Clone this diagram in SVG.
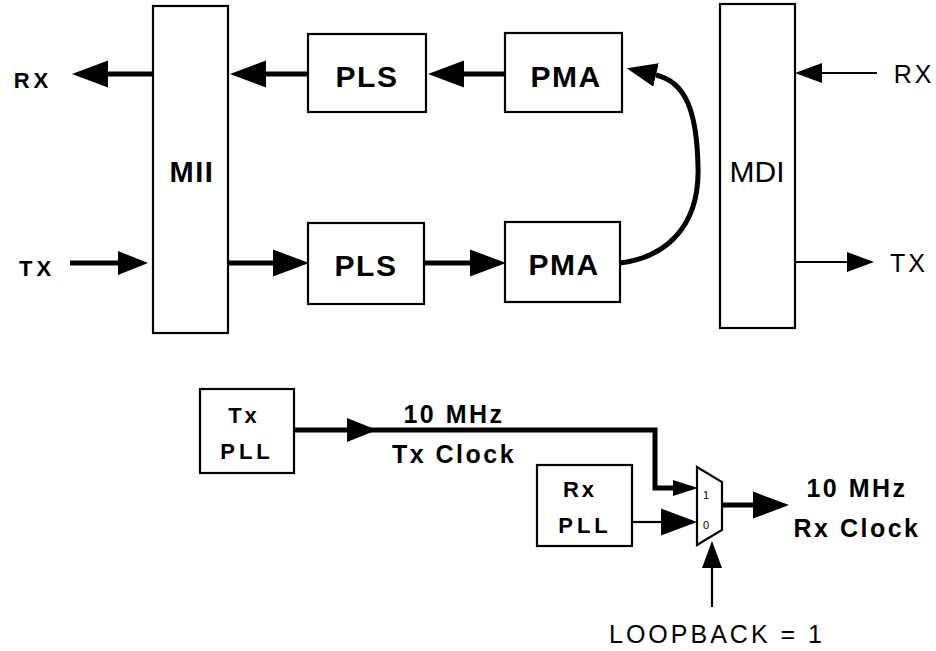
<svg xmlns="http://www.w3.org/2000/svg" width="936" height="651" viewBox="0 0 936 651">
<style>
.box{fill:#fff;stroke:#000;stroke-width:2.2}
.thick{fill:none;stroke:#000;stroke-width:5}
.thin{fill:none;stroke:#000;stroke-width:2.2}
.b{font-family:"Liberation Sans",Arial,sans-serif;font-weight:bold;fill:#000;text-anchor:middle}
.r{font-family:"Liberation Sans",Arial,sans-serif;fill:#000;text-anchor:middle}
</style>
<defs>
<marker id="ahL" markerUnits="userSpaceOnUse" markerWidth="36" markerHeight="28" viewBox="0 -14 36 28" refX="0" refY="0" orient="auto"><path d="M0,-13.5 L36,0 L0,13.5z" fill="#000"/></marker>
<marker id="ahM" markerUnits="userSpaceOnUse" markerWidth="30" markerHeight="24" viewBox="0 -12 30 24" refX="0" refY="0" orient="auto"><path d="M0,-12 L30,0 L0,12z" fill="#000"/></marker>
<marker id="ahS" markerUnits="userSpaceOnUse" markerWidth="27" markerHeight="20" viewBox="0 -10 27 20" refX="0" refY="0" orient="auto"><path d="M0,-10 L27,0 L0,10z" fill="#000"/></marker>
<marker id="ahXS" markerUnits="userSpaceOnUse" markerWidth="25" markerHeight="18" viewBox="0 -9 25 18" refX="0" refY="0" orient="auto"><path d="M0,-8 L25,0 L0,8z" fill="#000"/></marker>
</defs>

<g id="connectors">
<path class="thick" d="M152,74 H108" marker-end="url(#ahL)"/>
<path class="thick" d="M308,74 H266" marker-end="url(#ahL)"/>
<path class="thick" d="M505,74 H464" marker-end="url(#ahL)"/>
<path class="thick" d="M70,263 H118" marker-end="url(#ahM)"/>
<path class="thick" d="M228,263 H273" marker-end="url(#ahL)"/>
<path class="thick" d="M424,263 H470" marker-end="url(#ahL)"/>
<path class="thick" d="M620,263 C662,258 700,230 698,167 C697,112 686,82 656,75" marker-end="url(#ahM)"/>
<path class="thin" d="M877,73 H822" marker-end="url(#ahS)"/>
<path class="thin" d="M795,262 H847" marker-end="url(#ahS)"/>
<path class="thick" d="M294,430 H347" marker-end="url(#ahM)"/>
<path class="thick" d="M347,430 H655 V488 H673" marker-end="url(#ahXS)"/>
<path class="thin" d="M632,522 H661" marker-end="url(#ahL)"/>
<path class="thick" d="M722,505 H753" marker-end="url(#ahL)"/>
<path class="thin" d="M712,607 V568" marker-end="url(#ahS)"/>
</g>

<g id="MII"><rect class="box" x="153" y="6" width="75" height="327"/><text class="b" x="192" y="182" font-size="29" letter-spacing="1.5">MII</text></g>
<g id="PLS-rx"><rect class="box" x="308" y="34" width="118" height="78"/><text class="b" x="367" y="87" font-size="30" letter-spacing="1.5">PLS</text></g>
<g id="PLS-tx"><rect class="box" x="308" y="223" width="116" height="81"/><text class="b" x="366" y="276" font-size="30" letter-spacing="1.5">PLS</text></g>
<g id="PMA-rx"><rect class="box" x="505" y="33" width="117" height="79"/><text class="b" x="566" y="87" font-size="30" letter-spacing="1.5">PMA</text></g>
<g id="PMA-tx"><rect class="box" x="505" y="222" width="115" height="80"/><text class="b" x="564" y="275" font-size="30" letter-spacing="1.5">PMA</text></g>
<g id="MDI"><rect class="box" x="720" y="4" width="75" height="324"/><text class="r" x="757" y="182" font-size="30">MDI</text></g>
<g id="RX-left"><text class="b" x="33" y="88" font-size="22" letter-spacing="4">RX</text></g>
<g id="TX-left"><text class="b" x="37" y="276" font-size="22" letter-spacing="4">TX</text></g>
<g id="RX-right"><text class="r" x="914" y="83" font-size="25" letter-spacing="3">RX</text></g>
<g id="TX-right"><text class="r" x="909" y="272" font-size="25" letter-spacing="3">TX</text></g>

<g id="TxPLL"><rect class="box" x="200" y="389" width="94" height="84"/><text class="b" x="244" y="423" font-size="22" letter-spacing="3">Tx</text><text class="b" x="247" y="459" font-size="22" letter-spacing="4">PLL</text></g>
<g id="TxClockLabel"><text class="b" x="454" y="423" font-size="25" letter-spacing="2.5">10 MHz</text><text class="b" x="454" y="463" font-size="25" letter-spacing="2.5">Tx Clock</text></g>
<g id="RxPLL"><rect class="box" x="537" y="465" width="95" height="81"/><text class="b" x="580" y="497" font-size="22" letter-spacing="3">Rx</text><text class="b" x="585" y="533" font-size="22" letter-spacing="4">PLL</text></g>
<g id="MUX"><polygon class="box" points="697,467 722,482 722,530 697,545"/><text class="r" x="706" y="499" font-size="11">1</text><text class="r" x="706" y="529" font-size="11">0</text></g>
<g id="RxClockLabel"><text class="b" x="857" y="497" font-size="25" letter-spacing="2.5">10 MHz</text><text class="b" x="857" y="537" font-size="25" letter-spacing="2.5">Rx Clock</text></g>
<g id="LOOPBACK"><text class="r" x="717" y="643" font-size="25" letter-spacing="3">LOOPBACK = 1</text></g>
</svg>
